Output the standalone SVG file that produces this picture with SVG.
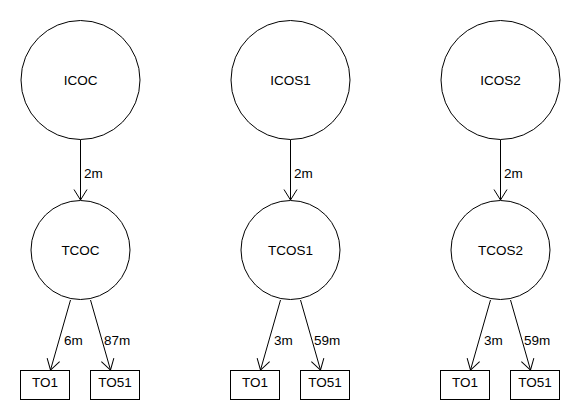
<svg xmlns="http://www.w3.org/2000/svg" width="580" height="420" viewBox="0 0 580 420">
<style>
.n{fill:#fff;stroke:#000;stroke-width:1}
.t{font-family:"Liberation Sans",Arial,Helvetica,sans-serif;font-size:13.5px;fill:#000}
.c{text-anchor:middle}
.e{fill:none;stroke:#000;stroke-width:1}
</style>
<defs>
<marker id="a" markerUnits="userSpaceOnUse" markerWidth="14" markerHeight="16" viewBox="-12 -8 14 16" refX="0" refY="0" orient="auto">
<path d="M-10.5,-6.5 L0,0 L-10.5,6.5" fill="none" stroke="#000" stroke-width="1"/>
</marker>
</defs>
<rect width="580" height="420" fill="#fff"/>
<g id="edges">
<line class="e" x1="80.5" y1="139.5" x2="80.5" y2="200" marker-end="url(#a)"/>
<text class="t" x="84" y="178">2m</text>
<line class="e" x1="70.5" y1="300" x2="50.5" y2="370" marker-end="url(#a)"/>
<text class="t" x="64" y="345">6m</text>
<line class="e" x1="90.5" y1="300" x2="110.5" y2="370" marker-end="url(#a)"/>
<text class="t" x="104" y="345">87m</text>

<line class="e" x1="290.5" y1="139.5" x2="290.5" y2="200" marker-end="url(#a)"/>
<text class="t" x="294" y="178">2m</text>
<line class="e" x1="280.5" y1="300" x2="260.5" y2="370" marker-end="url(#a)"/>
<text class="t" x="274" y="345">3m</text>
<line class="e" x1="300.5" y1="300" x2="320.5" y2="370" marker-end="url(#a)"/>
<text class="t" x="314" y="345">59m</text>

<line class="e" x1="500.5" y1="139.5" x2="500.5" y2="200" marker-end="url(#a)"/>
<text class="t" x="504" y="178">2m</text>
<line class="e" x1="490.5" y1="300" x2="470.5" y2="370" marker-end="url(#a)"/>
<text class="t" x="484" y="345">3m</text>
<line class="e" x1="510.5" y1="300" x2="530.5" y2="370" marker-end="url(#a)"/>
<text class="t" x="524" y="345">59m</text>
</g>
<g id="ICOC"><circle class="n" cx="80.5" cy="80" r="59.5"/><text class="t c" x="80.5" y="85">ICOC</text></g>
<g id="TCOC"><circle class="n" cx="80.5" cy="250" r="49.5"/><text class="t c" x="80.5" y="255">TCOC</text></g>
<g id="TO1_a"><rect class="n" x="20.5" y="370.5" width="49" height="29"/><text class="t c" x="45" y="387">TO1</text></g>
<g id="TO51_a"><rect class="n" x="90.5" y="370.5" width="49" height="29"/><text class="t c" x="115" y="387">TO51</text></g>

<g id="ICOS1"><circle class="n" cx="290.5" cy="80" r="59.5"/><text class="t c" x="290.5" y="85">ICOS1</text></g>
<g id="TCOS1"><circle class="n" cx="290.5" cy="250" r="49.5"/><text class="t c" x="290.5" y="255">TCOS1</text></g>
<g id="TO1_b"><rect class="n" x="230.5" y="370.5" width="49" height="29"/><text class="t c" x="255" y="387">TO1</text></g>
<g id="TO51_b"><rect class="n" x="300.5" y="370.5" width="49" height="29"/><text class="t c" x="325" y="387">TO51</text></g>

<g id="ICOS2"><circle class="n" cx="500.5" cy="80" r="59.5"/><text class="t c" x="500.5" y="85">ICOS2</text></g>
<g id="TCOS2"><circle class="n" cx="500.5" cy="250" r="49.5"/><text class="t c" x="500.5" y="255">TCOS2</text></g>
<g id="TO1_c"><rect class="n" x="440.5" y="370.5" width="49" height="29"/><text class="t c" x="465" y="387">TO1</text></g>
<g id="TO51_c"><rect class="n" x="510.5" y="370.5" width="49" height="29"/><text class="t c" x="535" y="387">TO51</text></g>
</svg>
